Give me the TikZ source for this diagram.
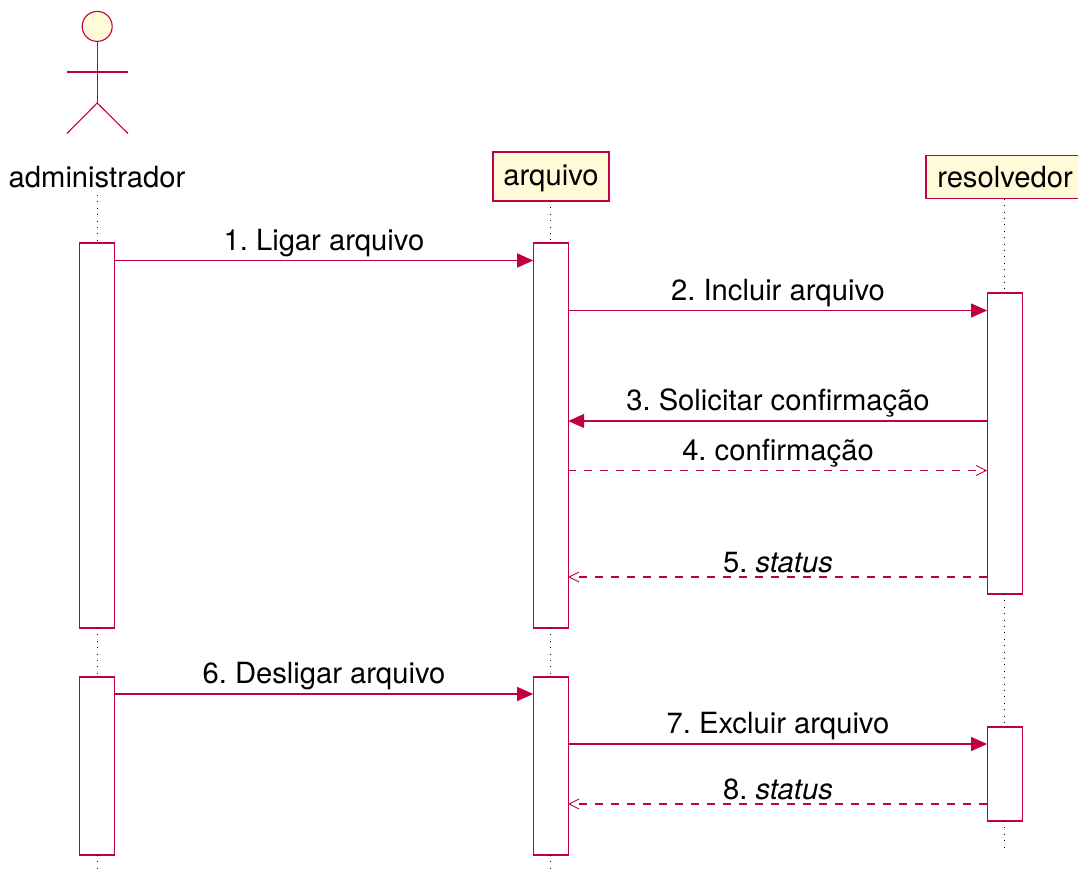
\documentclass[tikz,border=0pt]{standalone}
\usepackage{fontspec}
\setmainfont{TeX Gyre Heros}
\usetikzlibrary{arrows.meta}
\definecolor{umlline}{HTML}{C00040}
\definecolor{umlfill}{HTML}{FFFBD8}
\tikzset{
  x=1pt,y=-1pt,
  umltext/.style={font=\fontsize{29.2}{34}\selectfont\frenchspacing,text=black},
  actorline/.style={draw=umlline,line width=1.1pt},
  lifebox/.style={draw=umlline,fill=umlfill,line width=1.1pt,inner sep=0pt,outer sep=0pt,umltext},
  actorname/.style={inner sep=0pt,outer sep=0pt,umltext,text height=21pt,text depth=0pt},
  activation/.style={draw=umlline,fill=white,line width=1.1pt,inner sep=0pt,outer sep=0pt,minimum width=35pt},
  lifeline/.style={draw=black,line width=1pt,dash pattern=on 1pt off 5.4pt},
  msg/.style={draw=umlline,line width=1.1pt,-{Triangle[length=16pt,width=14pt,fill=umlline]}},
  reply/.style={draw=umlline,line width=1.1pt,dash pattern=on 8pt off 8pt,-{Straight Barb[length=10pt,width=10pt,line width=.9pt]}},
  msglabel/.style={anchor=base,inner sep=0pt,umltext},
}
\begin{document}
\begin{tikzpicture}
\useasboundingbox (0,0) rectangle (1078,872);
% actor
\node[circle,draw=umlline,fill=umlfill,line width=1.1pt,minimum size=30pt,inner sep=0pt,outer sep=0pt] (head) at (97.2,26.4) {};
\coordinate (hip) at (97.2,103);
\coordinate (armL) at (67,72);
\coordinate (armR) at (128,72);
\coordinate (legL) at (67,133.5);
\coordinate (legR) at (128,133.5);
\draw[actorline] (head.south) -- (hip);
\draw[actorline] (armL) -- (armR);
\draw[actorline] (legL) -- (hip) -- (legR);
% heads
\node[actorname,minimum width=176pt,minimum height=36pt] (admin) at (97,177) {administrador};
\node[lifebox,minimum width=116pt,minimum height=49pt,text height=22pt,text depth=5pt] (arq) at (551,176.5) {arquivo};
\node[lifebox,minimum width=158pt,minimum height=43.5pt] (res) at (1005,177) {resolvedor};
% activations
\node[activation,minimum height=385pt] (ad1) at (97,435.5) {};
\node[activation,minimum height=178pt] (ad2) at (97,766) {};
\node[activation,minimum height=385pt] (ar1) at (550.7,435.5) {};
\node[activation,minimum height=178pt] (ar2) at (550.7,766) {};
\node[activation,minimum height=301pt] (re1) at (1004.6,443.5) {};
\node[activation,minimum height=94pt] (re2) at (1004.6,774) {};
% lifelines
\coordinate (adEnd) at (97,872);
\coordinate (arEnd) at (550.7,872);
\coordinate (reEnd) at (1004.6,847);
\draw[lifeline] (ad1.north |- admin.south) -- (ad1.north);
\draw[lifeline] (ad1.south) -- (ad2.north);
\draw[lifeline] (ad2.south) -- (adEnd);
\draw[lifeline] (ar1.north |- arq.south) -- (ar1.north);
\draw[lifeline] (ar1.south) -- (ar2.north);
\draw[lifeline] (ar2.south) -- (arEnd);
\draw[lifeline] (re1.north |- res.south) -- (re1.north);
\draw[lifeline] (re1.south) -- (re2.north);
\draw[lifeline] (re2.south) -- (reEnd);
% message rows
\coordinate (y1) at (0,260.5);
\coordinate (y2) at (0,310.5);
\coordinate (y3) at (0,421);
\coordinate (y4) at (0,470.5);
\coordinate (y5) at (0,577);
\coordinate (y6) at (0,694);
\coordinate (y7) at (0,744);
\coordinate (y8) at (0,804);
\draw[msg] (ad1.east |- y1) -- (ar1.west |- y1);
\draw[msg] (ar1.east |- y2) -- (re1.west |- y2);
\draw[msg] (re1.west |- y3) -- (ar1.east |- y3);
\draw[reply] (ar1.east |- y4) -- (re1.west |- y4);
\draw[reply] (re1.west |- y5) -- (ar1.east |- y5);
\draw[msg] (ad2.east |- y6) -- (ar2.west |- y6);
\draw[msg] (ar2.east |- y7) -- (re2.west |- y7);
\draw[reply] (re2.west |- y8) -- (ar2.east |- y8);
% labels
\node[msglabel] (l1) at (324,250) {1. Ligar arquivo};
\node[msglabel] (l2) at (778,300) {2. Incluir arquivo};
\node[msglabel] (l3) at (778,410.5) {3. Solicitar confirmação};
\node[msglabel] (l4) at (778,460.5) {4. confirmação};
\node[msglabel] (l5) at (778,572.5) {5. \textit{status}};
\node[msglabel] (l6) at (324,683.5) {6. Desligar arquivo};
\node[msglabel] (l7) at (778,733.5) {7. Excluir arquivo};
\node[msglabel] (l8) at (778,799.5) {8. \textit{status}};
\end{tikzpicture}
\end{document}
